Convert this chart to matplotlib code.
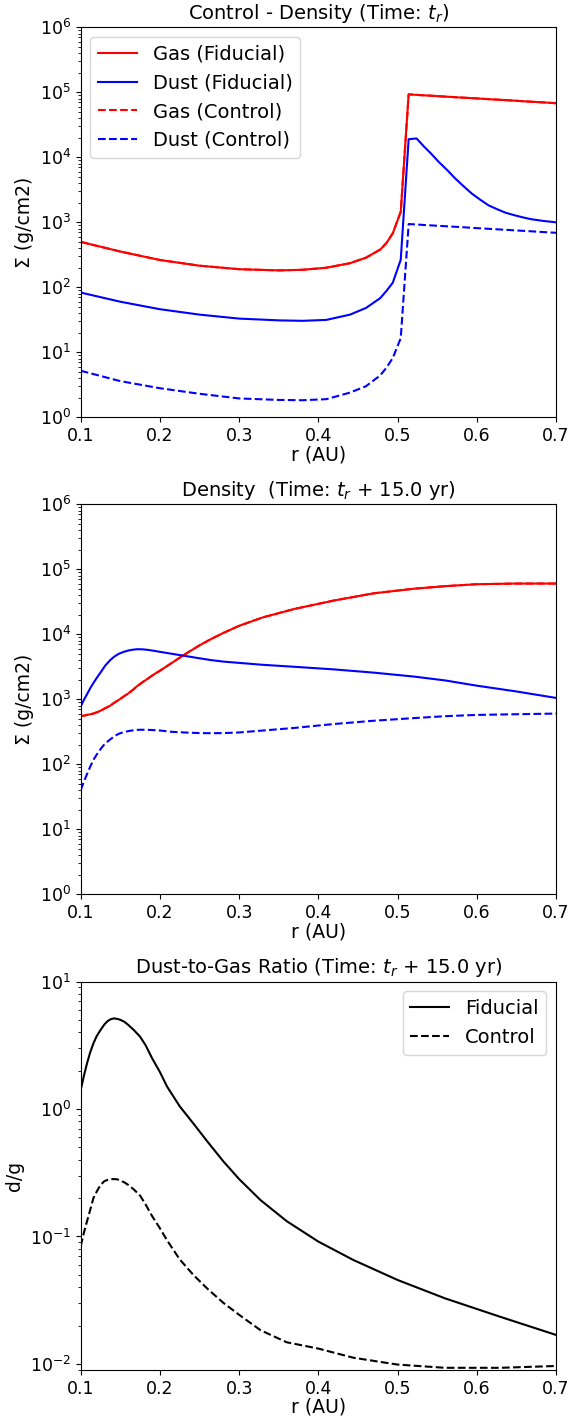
#!/usr/bin/env python3
"""Gas / dust surface density and dust-to-gas ratio, fiducial vs control"""
import matplotlib
matplotlib.use('Agg')
import matplotlib.pyplot as plt

# ── Panel 1: density at t_r ──
r_tr = [0.10, 0.15, 0.20, 0.25, 0.30, 0.35, 0.38, 0.41, 0.44, 0.46, 0.478, 0.486, 0.494,
        0.504, 0.514, 0.524, 0.533, 0.542, 0.552, 0.563, 0.573, 0.584, 0.594, 0.605,
        0.615, 0.626, 0.636, 0.647, 0.657, 0.668, 0.684, 0.70]
gas_tr = [500, 355, 263, 215, 190, 182, 186, 200, 235, 285, 380, 480, 680,
          1450, 93000, 91400, 90000, 88700, 87100, 85500, 84100, 82600, 81300, 79800,
          78500, 77100, 75900, 74500, 73100, 71800, 70000, 68000]
dust_fid_tr = [83, 60, 46, 38, 33, 31, 30.5, 31.5, 38, 48, 68, 88, 118,
               265, 19000, 19500, 14800, 11500, 8500, 6300, 4700, 3530, 2750, 2200,
               1820, 1585, 1410, 1290, 1200, 1120, 1050, 1000]
dust_ctl_tr = [5.2, 3.6, 2.8, 2.3, 1.95, 1.85, 1.83, 1.9, 2.4, 3.0, 4.4, 5.8, 8.2,
               16.5, 940, 925, 910, 897, 883, 867, 853, 838, 822, 807,
               794, 780, 767, 753, 741, 728, 708, 690]

# ── Panel 2: density at t_r + 15 yr ──
r_15 = [0.10, 0.104, 0.108, 0.112, 0.116, 0.121, 0.126, 0.131, 0.137, 0.142, 0.148, 0.154,
        0.16, 0.166, 0.171, 0.178, 0.185, 0.192, 0.20, 0.215, 0.23, 0.25, 0.265, 0.28,
        0.30, 0.33, 0.37, 0.42, 0.47, 0.52, 0.56, 0.60, 0.65, 0.70]
gas_15 = [550, 560, 575, 588, 603, 635, 676, 730, 794, 880, 977, 1100,
          1230, 1400, 1585, 1830, 2090, 2400, 2750, 3630, 4790, 6760, 8500, 10470,
          13490, 18200, 24550, 33110, 42660, 50120, 54950, 58880, 60260, 60260]
dust_fid_15 = [776, 980, 1200, 1480, 1780, 2200, 2690, 3300, 3980, 4500, 5010, 5350,
               5620, 5800, 5890, 5870, 5750, 5580, 5370, 5010, 4680, 4270, 4000, 3800,
               3630, 3390, 3160, 2880, 2570, 2240, 1950, 1620, 1320, 1050]
dust_ctl_15 = [40, 54, 71, 92, 117, 146, 178, 210, 240, 268, 295, 312,
               324, 333, 339, 340, 339, 336, 331, 316, 309, 302, 301, 302,
               309, 331, 363, 417, 468, 513, 550, 575, 589, 603]

# ── Panel 3: dust-to-gas ratio at t_r + 15 yr ──
r_dg = [0.10, 0.104, 0.108, 0.112, 0.116, 0.12, 0.125, 0.13, 0.134, 0.138, 0.142, 0.146,
        0.15, 0.155, 0.16, 0.167, 0.175, 0.182, 0.19, 0.20, 0.209, 0.225, 0.242, 0.26,
        0.28, 0.30, 0.327, 0.36, 0.40, 0.444, 0.50, 0.56, 0.63, 0.70]
dg_fid = [1.41, 1.82, 2.29, 2.79, 3.27, 3.72, 4.17, 4.62, 4.90, 5.07, 5.14, 5.10,
          5.01, 4.84, 4.57, 4.17, 3.69, 3.16, 2.51, 1.95, 1.50, 1.05, 0.773, 0.555,
          0.389, 0.282, 0.193, 0.132, 0.0912, 0.0655, 0.0456, 0.0327, 0.0234, 0.0169]
dg_ctl = [0.0841, 0.107, 0.132, 0.162, 0.200, 0.224, 0.254, 0.272, 0.278, 0.282, 0.282, 0.281,
          0.275, 0.266, 0.254, 0.234, 0.209, 0.178, 0.145, 0.116, 0.0933, 0.0661, 0.0501, 0.0389,
          0.0302, 0.0243, 0.0184, 0.0148, 0.0132, 0.0112, 0.00989, 0.00933, 0.00933, 0.00964]

TICK = 12.5
LAB = 13.5
TIT = 14

fig = plt.figure(figsize=(5.82, 14.16), dpi=100)
ax1 = fig.add_axes([0.1387, 0.7053, 0.8166, 0.2754])
ax2 = fig.add_axes([0.1387, 0.3684, 0.8166, 0.2755])
ax3 = fig.add_axes([0.1387, 0.0325, 0.8166, 0.2743])

# top panel
ax1.plot(r_tr, gas_tr, 'r-', lw=1.5, label='Gas (Fiducial)')
ax1.plot(r_tr, dust_fid_tr, 'b-', lw=1.5, label='Dust (Fiducial)')
ax1.plot(r_tr, gas_tr, 'r--', lw=1.5, label='Gas (Control)')
ax1.plot(r_tr, dust_ctl_tr, 'b--', lw=1.5, label='Dust (Control)')
ax1.set_title('Control - Density (Time: $t_r$)', fontsize=TIT)
ax1.legend(loc='upper left', fontsize=14)

# middle panel
ax2.plot(r_15, gas_15, 'r-', lw=1.5)
ax2.plot(r_15, dust_fid_15, 'b-', lw=1.5)
ax2.plot(r_15, gas_15, 'r--', lw=1.5)
ax2.plot(r_15, dust_ctl_15, 'b--', lw=1.5)
ax2.set_title('Density  (Time: $t_r$ + 15.0 yr)', fontsize=TIT)

for ax in (ax1, ax2):
    ax.set_yscale('log')
    ax.set_ylim(1, 1e6)
    ax.set_ylabel('Σ (g/cm2)', fontsize=LAB)

# bottom panel
ax3.plot(r_dg, dg_fid, 'k-', lw=1.5, label='Fiducial')
ax3.plot(r_dg, dg_ctl, 'k--', lw=1.5, label='Control')
ax3.set_yscale('log')
ax3.set_ylim(0.00897, 10)
ax3.set_ylabel('d/g', fontsize=LAB)
ax3.set_title('Dust-to-Gas Ratio (Time: $t_r$ + 15.0 yr)', fontsize=TIT)
ax3.legend(loc='upper right', fontsize=14)

for ax in (ax1, ax2, ax3):
    ax.set_xlim(0.1, 0.7)
    ax.set_xlabel('r (AU)', fontsize=LAB, labelpad=0)
    ax.tick_params(labelsize=TICK)

plt.savefig('out.png', dpi=100)
print("Saved: out.png")
